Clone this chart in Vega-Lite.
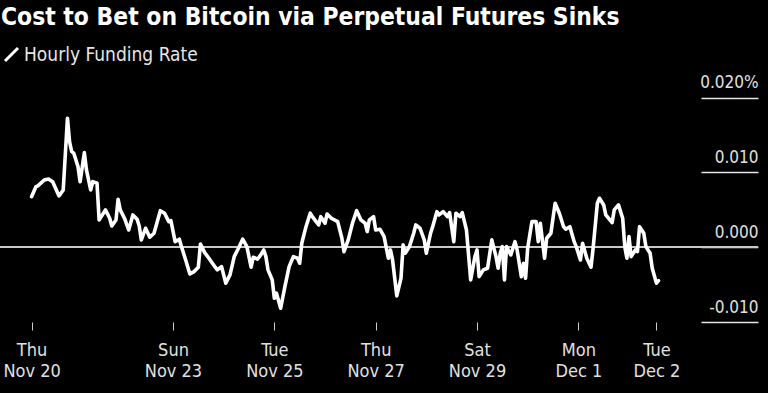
{
  "$schema": "https://vega.github.io/schema/vega-lite/v6.json",
  "width": 758,
  "height": 243,
  "autosize": {"type": "none"},
  "padding": {"left": 0, "top": 79, "right": 10, "bottom": 71},
  "background": "#000000",
  "title": {
    "text": "Cost to Bet on Bitcoin via Perpetual Futures Sinks",
    "anchor": "start",
    "frame": "group",
    "font": "DejaVu Sans Condensed, DejaVu Sans",
    "fontSize": 24.4,
    "fontWeight": "bold",
    "color": "#ffffff",
    "offset": 15,
    "dx": 1
  },
  "config": {
    "view": {"stroke": null},
    "font": "DejaVu Sans Condensed, DejaVu Sans",
    "legend": {
      "orient": "none",
      "legendX": 2,
      "legendY": -34,
      "padding": 0,
      "symbolType": "M-1,1L1,-1",
      "symbolSize": 169,
      "symbolStrokeWidth": 3,
      "labelFontSize": 19,
      "labelColor": "#e6e6e6",
      "labelFont": "DejaVu Sans Condensed, DejaVu Sans",
      "labelOffset": 3,
      "labelLimit": 0
    }
  },
  "data": {
    "values": [
      {"t": "2025-11-20T05:00", "v": 0.00676},
      {"t": "2025-11-20T07:00", "v": 0.00806},
      {"t": "2025-11-20T08:00", "v": 0.0082},
      {"t": "2025-11-20T11:00", "v": 0.009},
      {"t": "2025-11-20T13:00", "v": 0.00913},
      {"t": "2025-11-20T15:00", "v": 0.00877},
      {"t": "2025-11-20T18:00", "v": 0.00686},
      {"t": "2025-11-20T20:00", "v": 0.00766},
      {"t": "2025-11-20T22:00", "v": 0.01725},
      {"t": "2025-11-20T23:00", "v": 0.01412},
      {"t": "2025-11-21T00:00", "v": 0.01278},
      {"t": "2025-11-21T01:00", "v": 0.01257},
      {"t": "2025-11-21T03:00", "v": 0.01078},
      {"t": "2025-11-21T04:00", "v": 0.00877},
      {"t": "2025-11-21T06:00", "v": 0.01265},
      {"t": "2025-11-21T07:00", "v": 0.01033},
      {"t": "2025-11-21T09:00", "v": 0.00766},
      {"t": "2025-11-21T10:00", "v": 0.00877},
      {"t": "2025-11-21T12:00", "v": 0.00856},
      {"t": "2025-11-21T13:00", "v": 0.00365},
      {"t": "2025-11-21T14:00", "v": 0.00409},
      {"t": "2025-11-21T16:00", "v": 0.00499},
      {"t": "2025-11-21T18:00", "v": 0.00388},
      {"t": "2025-11-21T19:00", "v": 0.00285},
      {"t": "2025-11-21T21:00", "v": 0.00365},
      {"t": "2025-11-21T22:00", "v": 0.00642},
      {"t": "2025-11-21T23:00", "v": 0.00499},
      {"t": "2025-11-22T01:00", "v": 0.00388},
      {"t": "2025-11-22T03:00", "v": 0.00231},
      {"t": "2025-11-22T05:00", "v": 0.00432},
      {"t": "2025-11-22T07:00", "v": 0.00374},
      {"t": "2025-11-22T08:00", "v": 0.00285},
      {"t": "2025-11-22T09:00", "v": 0.00098},
      {"t": "2025-11-22T11:00", "v": 0.00254},
      {"t": "2025-11-22T13:00", "v": 0.00134},
      {"t": "2025-11-22T15:00", "v": 0.00187},
      {"t": "2025-11-22T18:00", "v": 0.00489},
      {"t": "2025-11-22T20:00", "v": 0.00455},
      {"t": "2025-11-22T22:00", "v": 0.00342},
      {"t": "2025-11-22T23:00", "v": 0.00356},
      {"t": "2025-11-23T01:00", "v": 0.00075},
      {"t": "2025-11-23T03:00", "v": 0.00107},
      {"t": "2025-11-23T04:00", "v": 0.00008},
      {"t": "2025-11-23T06:00", "v": -0.0017},
      {"t": "2025-11-23T08:00", "v": -0.00357},
      {"t": "2025-11-23T10:00", "v": -0.00326},
      {"t": "2025-11-23T12:00", "v": -0.00267},
      {"t": "2025-11-23T13:00", "v": 0.00044},
      {"t": "2025-11-23T15:00", "v": -0.00072},
      {"t": "2025-11-23T17:00", "v": -0.00147},
      {"t": "2025-11-23T20:00", "v": -0.00267},
      {"t": "2025-11-23T21:00", "v": -0.00303},
      {"t": "2025-11-23T23:00", "v": -0.00259},
      {"t": "2025-11-24T01:00", "v": -0.00481},
      {"t": "2025-11-24T03:00", "v": -0.0037},
      {"t": "2025-11-24T05:00", "v": -0.00126},
      {"t": "2025-11-24T07:00", "v": -0.00013},
      {"t": "2025-11-24T09:00", "v": 0.00107},
      {"t": "2025-11-24T11:00", "v": 0.00008},
      {"t": "2025-11-24T13:00", "v": -0.00267},
      {"t": "2025-11-24T14:00", "v": -0.00134},
      {"t": "2025-11-24T16:00", "v": -0.0016},
      {"t": "2025-11-24T17:00", "v": -0.00126},
      {"t": "2025-11-24T19:00", "v": -0.00036},
      {"t": "2025-11-24T20:00", "v": -0.00126},
      {"t": "2025-11-24T21:00", "v": -0.00303},
      {"t": "2025-11-24T23:00", "v": -0.00437},
      {"t": "2025-11-25T00:00", "v": -0.00682},
      {"t": "2025-11-25T01:00", "v": -0.00615},
      {"t": "2025-11-25T03:00", "v": -0.00816},
      {"t": "2025-11-25T05:00", "v": -0.00527},
      {"t": "2025-11-25T07:00", "v": -0.00259},
      {"t": "2025-11-25T09:00", "v": -0.00126},
      {"t": "2025-11-25T11:00", "v": -0.00147},
      {"t": "2025-11-25T12:00", "v": -0.00214},
      {"t": "2025-11-25T13:00", "v": 0.00053},
      {"t": "2025-11-25T15:00", "v": 0.00275},
      {"t": "2025-11-25T17:00", "v": 0.00455},
      {"t": "2025-11-25T18:00", "v": 0.00409},
      {"t": "2025-11-25T21:00", "v": 0.00298},
      {"t": "2025-11-25T22:00", "v": 0.00409},
      {"t": "2025-11-26T00:00", "v": 0.00321},
      {"t": "2025-11-26T01:00", "v": 0.00445},
      {"t": "2025-11-26T03:00", "v": 0.00388},
      {"t": "2025-11-26T06:00", "v": 0.00342},
      {"t": "2025-11-26T08:00", "v": 0.0012},
      {"t": "2025-11-26T09:00", "v": -0.00059},
      {"t": "2025-11-26T11:00", "v": 0.00098},
      {"t": "2025-11-26T13:00", "v": 0.00321},
      {"t": "2025-11-26T15:00", "v": 0.00489},
      {"t": "2025-11-26T17:00", "v": 0.00365},
      {"t": "2025-11-26T19:00", "v": 0.00321},
      {"t": "2025-11-26T20:00", "v": 0.00209},
      {"t": "2025-11-26T21:00", "v": 0.00365},
      {"t": "2025-11-26T23:00", "v": 0.00409},
      {"t": "2025-11-27T00:00", "v": 0.00231},
      {"t": "2025-11-27T02:00", "v": 0.00241},
      {"t": "2025-11-27T04:00", "v": 0.00142},
      {"t": "2025-11-27T06:00", "v": -0.00147},
      {"t": "2025-11-27T07:00", "v": -0.00036},
      {"t": "2025-11-27T08:00", "v": -0.0017},
      {"t": "2025-11-27T10:00", "v": -0.00651},
      {"t": "2025-11-27T12:00", "v": -0.00414},
      {"t": "2025-11-27T13:00", "v": 0.00031},
      {"t": "2025-11-27T14:00", "v": -0.0008},
      {"t": "2025-11-27T16:00", "v": 0.00008},
      {"t": "2025-11-27T18:00", "v": 0.00187},
      {"t": "2025-11-27T19:00", "v": 0.00298},
      {"t": "2025-11-27T21:00", "v": 0.00254},
      {"t": "2025-11-27T23:00", "v": 0.00098},
      {"t": "2025-11-28T00:00", "v": -0.0008},
      {"t": "2025-11-28T02:00", "v": 0.00187},
      {"t": "2025-11-28T03:00", "v": 0.00275},
      {"t": "2025-11-28T05:00", "v": 0.00476},
      {"t": "2025-11-28T06:00", "v": 0.00432},
      {"t": "2025-11-28T08:00", "v": 0.00476},
      {"t": "2025-11-28T10:00", "v": 0.00409},
      {"t": "2025-11-28T11:00", "v": 0.00463},
      {"t": "2025-11-28T13:00", "v": 0.00075},
      {"t": "2025-11-28T14:00", "v": 0.00455},
      {"t": "2025-11-28T16:00", "v": 0.00409},
      {"t": "2025-11-28T17:00", "v": 0.00463},
      {"t": "2025-11-28T19:00", "v": 0.00231},
      {"t": "2025-11-28T21:00", "v": -0.00437},
      {"t": "2025-11-28T23:00", "v": -0.00126},
      {"t": "2025-11-29T00:00", "v": -0.00036},
      {"t": "2025-11-29T01:00", "v": -0.00393},
      {"t": "2025-11-29T03:00", "v": -0.00303},
      {"t": "2025-11-29T05:00", "v": -0.00281},
      {"t": "2025-11-29T07:00", "v": 0.00098},
      {"t": "2025-11-29T09:00", "v": -0.00126},
      {"t": "2025-11-29T10:00", "v": -0.00281},
      {"t": "2025-11-29T11:00", "v": -0.0008},
      {"t": "2025-11-29T12:00", "v": 0.00008},
      {"t": "2025-11-29T13:00", "v": -0.00437},
      {"t": "2025-11-29T14:00", "v": 0.00008},
      {"t": "2025-11-29T16:00", "v": -0.00103},
      {"t": "2025-11-29T18:00", "v": 0.00075},
      {"t": "2025-11-29T19:00", "v": -0.00036},
      {"t": "2025-11-29T21:00", "v": -0.00393},
      {"t": "2025-11-29T22:00", "v": -0.00214},
      {"t": "2025-11-29T23:00", "v": -0.00414},
      {"t": "2025-11-30T00:00", "v": -0.00013},
      {"t": "2025-11-30T02:00", "v": 0.00342},
      {"t": "2025-11-30T04:00", "v": 0.00342},
      {"t": "2025-11-30T05:00", "v": 0.00075},
      {"t": "2025-11-30T06:00", "v": 0.00321},
      {"t": "2025-11-30T08:00", "v": -0.00147},
      {"t": "2025-11-30T09:00", "v": 0.0012},
      {"t": "2025-11-30T11:00", "v": 0.00187},
      {"t": "2025-11-30T13:00", "v": 0.00588},
      {"t": "2025-11-30T15:00", "v": 0.00455},
      {"t": "2025-11-30T17:00", "v": 0.00275},
      {"t": "2025-11-30T18:00", "v": 0.00241},
      {"t": "2025-11-30T20:00", "v": 0.00275},
      {"t": "2025-11-30T22:00", "v": 0.00075},
      {"t": "2025-11-30T23:00", "v": 0.00008},
      {"t": "2025-12-01T01:00", "v": -0.0017},
      {"t": "2025-12-01T02:00", "v": 0.00053},
      {"t": "2025-12-01T04:00", "v": -0.00147},
      {"t": "2025-12-01T06:00", "v": -0.00267},
      {"t": "2025-12-01T07:00", "v": -0.00013},
      {"t": "2025-12-01T09:00", "v": 0.00588},
      {"t": "2025-12-01T10:00", "v": 0.00655},
      {"t": "2025-12-01T12:00", "v": 0.00566},
      {"t": "2025-12-01T13:00", "v": 0.00432},
      {"t": "2025-12-01T16:00", "v": 0.00329},
      {"t": "2025-12-01T17:00", "v": 0.00499},
      {"t": "2025-12-01T19:00", "v": 0.00566},
      {"t": "2025-12-01T21:00", "v": 0.00388},
      {"t": "2025-12-01T22:00", "v": 0.00008},
      {"t": "2025-12-01T23:00", "v": -0.00147},
      {"t": "2025-12-02T00:00", "v": 0.00142},
      {"t": "2025-12-02T01:00", "v": -0.00126},
      {"t": "2025-12-02T03:00", "v": -0.00036},
      {"t": "2025-12-02T04:00", "v": -0.00059},
      {"t": "2025-12-02T05:00", "v": 0.00275},
      {"t": "2025-12-02T07:00", "v": 0.00187},
      {"t": "2025-12-02T08:00", "v": 0.00008},
      {"t": "2025-12-02T10:00", "v": -0.0008},
      {"t": "2025-12-02T11:00", "v": -0.00281},
      {"t": "2025-12-02T13:00", "v": -0.00481},
      {"t": "2025-12-02T14:00", "v": -0.00447}
    ]
  },
  "layer": [
    {
      "mark": {"type": "rule", "color": "#c8c8c8", "strokeWidth": 1.5},
      "encoding": {
        "y": {
          "datum": 0,
          "type": "quantitative",
          "scale": {"domain": [-0.01, 0.0225], "nice": false, "zero": false},
          "axis": {"orient": "right"}
        }
      }
    },
    {
      "mark": {"type": "line", "color": "#ffffff", "strokeWidth": 3.6, "strokeJoin": "round", "strokeCap": "round"},
      "encoding": {
        "x": {
          "field": "t",
          "type": "temporal",
          "scale": {
            "domain": [
              {"year": 2025, "month": 11, "date": 19, "hours": 14, "minutes": 3},
              {"year": 2025, "month": 12, "date": 4, "hours": 13, "minutes": 6}
            ]
          },
          "axis": {
            "title": null,
            "values": [
              {"year": 2025, "month": 11, "date": 20, "hours": 5},
              {"year": 2025, "month": 11, "date": 23},
              {"year": 2025, "month": 11, "date": 25},
              {"year": 2025, "month": 11, "date": 27},
              {"year": 2025, "month": 11, "date": 29},
              {"year": 2025, "month": 12, "date": 1},
              {"year": 2025, "month": 12, "date": 2, "hours": 13}
            ],
            "labelExpr": "[timeFormat(datum.value, '%a'), timeFormat(datum.value, '%b %-d')]",
            "domain": false,
            "grid": false,
            "tickSize": 8,
            "tickColor": "#cccccc",
            "tickWidth": 1,
            "labelColor": "#e0e0e0",
            "labelFontSize": 18,
            "labelLineHeight": 21,
            "labelBaseline": "line-top",
            "labelPadding": 9,
            "labelFlush": false,
            "labelOverlap": false
          }
        },
        "y": {
          "field": "v",
          "type": "quantitative",
          "scale": {"domain": [-0.01, 0.0225], "nice": false, "zero": false},
          "axis": {
            "orient": "right",
            "title": null,
            "values": [-0.01, 0, 0.01, 0.02],
            "labelExpr": "datum.value > 0.015 ? '0.020%' : replace(format(datum.value, '.3f'), '\u2212', '-')",
            "domain": false,
            "grid": false,
            "tickSize": -57,
            "tickColor": "#e6e6e6",
            "tickWidth": 1.5,
            "labelPadding": 57,
            "labelAlign": "right",
            "labelBaseline": "alphabetic",
            "labelOffset": -10,
            "labelFontSize": 17,
            "labelColor": "#e0e0e0",
            "labelFlush": false,
            "labelOverlap": false,
            "encode": {"labels": {"enter": {"dx": {"signal": "datum.value > 0.015 ? 10 : 0"}}}}
          }
        },
        "color": {
          "datum": "Hourly Funding Rate",
          "type": "nominal",
          "scale": {"range": ["#ffffff"]},
          "legend": {"title": null}
        }
      }
    }
  ]
}
